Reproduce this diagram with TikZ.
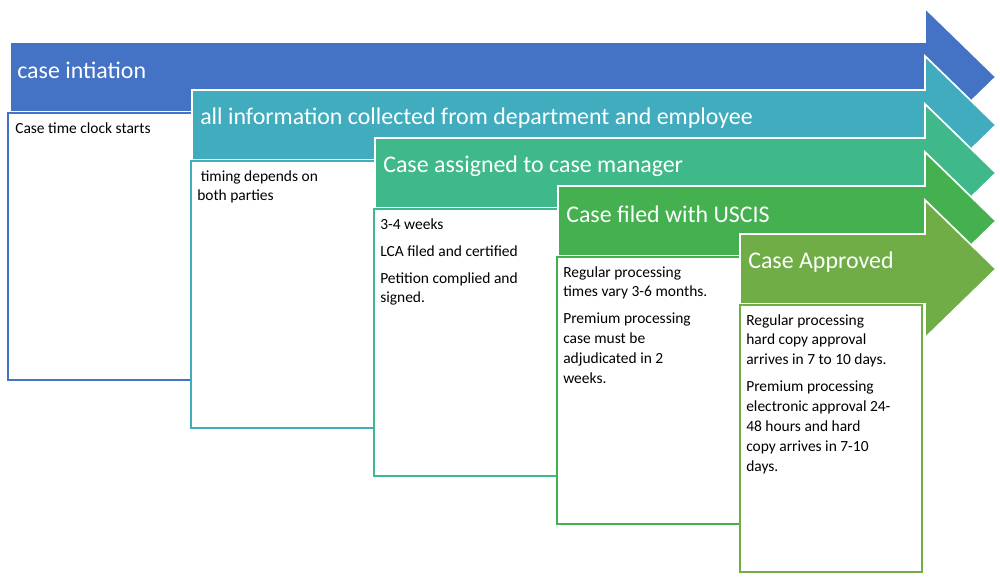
\documentclass[tikz,border=0pt]{standalone}
\usepackage{fontspec}
\setmainfont{Carlito}
\usepackage{tikz}
\usetikzlibrary{positioning}
\definecolor{stepA}{HTML}{4472C4}
\definecolor{stepB}{HTML}{42ACBF}
\definecolor{stepC}{HTML}{40B98A}
\definecolor{stepD}{HTML}{44B04F}
\definecolor{stepE}{HTML}{70AD47}
\tikzset{
  banner/.style={draw=white, line width=1.2pt},
  title/.style={anchor=west, text=white, font=\fontsize{17}{20}\selectfont, inner sep=0pt},
  notebox/.style={draw=#1, line width=1.2pt, fill=white},
  note/.style={anchor=north west, align=left, inner sep=0pt, font=\fontsize{11}{14.2}\selectfont}
}
% one step: left x, top y, colour
\newcommand{\stagearrow}[3]{%
  \fill[#3] (#1,#2) -- (925,#2) -- (925,#2-34) -- (996,#2+35) -- (925,#2+104) -- (925,#2+70) -- (#1,#2+70) -- cycle;
  \draw[banner] (#1,#2) -- (925,#2) -- (925,#2-34) -- (996,#2+35) -- (925,#2+104) -- (925,#2+70) -- (#1,#2+70) -- cycle;
}
\begin{document}
\begin{tikzpicture}[x=0.025cm, y=-0.025cm]
    \useasboundingbox (0,0) rectangle (1000,577);

    % case intiation
    \stagearrow{10}{42}{stepA}
    \node[title] (tA) at (17,70) {case intiation};
    \draw[notebox=stepA] (8,113) rectangle (192,380);
    \node[note] (nA) at (15,122) {Case time clock starts};

    % information collected
    \stagearrow{192}{90}{stepB}
    \node[title] (tB) at (200,118) {all information collected from department and employee};
    \draw[notebox=stepB] (191,161) rectangle (375,428);
    \node[note] (nB) at (197,170) {\ timing depends on\\both parties};

    % assigned
    \stagearrow{375}{138}{stepC}
    \node[title] (tC) at (383,166) {Case assigned to case manager};
    \draw[notebox=stepC] (374,209) rectangle (558,476);
    \node[note] (nC) at (380,218) {3-4 weeks\\[5pt]LCA filed and certified\\[5pt]Petition complied and\\signed.};

    % filed
    \stagearrow{558}{186}{stepD}
    \node[title] (tD) at (566,214) {Case filed with USCIS};
    \draw[notebox=stepD] (557,257) rectangle (741,524);
    \node[note] (nD) at (563,266) {Regular processing\\times vary 3-6 months.\\[5pt]Premium processing\\case must be\\adjudicated in 2\\weeks.};

    % approved
    \stagearrow{740}{234}{stepE}
    \node[title] (tE) at (748,262) {Case Approved};
    \draw[notebox=stepE] (740,305) rectangle (922,572);
    \node[note] (nE) at (746,314) {Regular processing\\hard copy approval\\arrives in 7 to 10 days.\\[5pt]Premium processing\\electronic approval 24-\\48 hours and hard\\copy arrives in 7-10\\days.};
\end{tikzpicture}
\end{document}
